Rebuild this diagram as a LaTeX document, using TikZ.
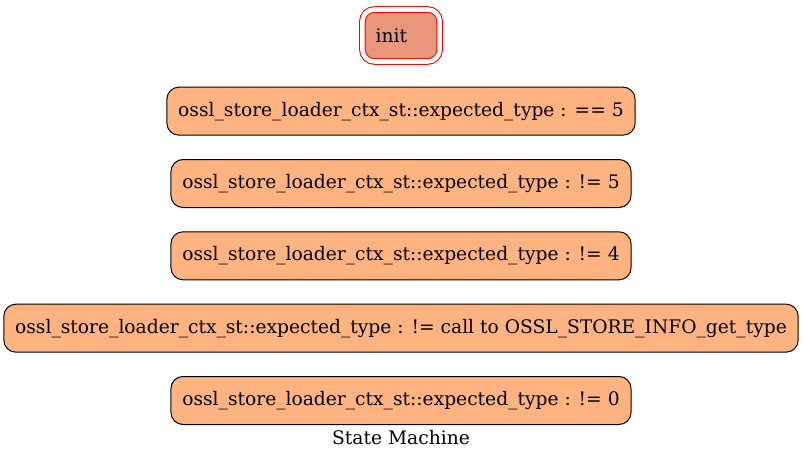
\documentclass[tikz,border=0pt]{standalone}
\usepackage{fontspec}
\setmainfont{DejaVu Serif}
\usetikzlibrary{positioning}
\definecolor{statefill}{RGB}{255,179,128}
\definecolor{initfill}{RGB}{233,150,122}

\begin{document}
\begin{tikzpicture}[x=0.75pt, y=-0.75pt]

\tikzstyle{state} = [rectangle, rounded corners=9pt, draw=black, line width=0.75pt, fill=statefill, minimum height=36pt, inner xsep=8.5pt, font=\fontsize{14}{16}\selectfont]
\tikzstyle{initstate} = [rectangle, rounded corners=9pt, draw=red, line width=0.75pt, double=white, double distance=3.4pt, fill=initfill, minimum height=39pt, text width=38pt, align=left, inner xsep=10pt, font=\fontsize{14}{16}\selectfont]
\tikzstyle{caption} = [font=\fontsize{14}{16}\selectfont]

\useasboundingbox (0,0) rectangle (803,460);

% Make nodes
\node (init) [initstate] at (401,35.5) {init};
\node (s1) [state, below=18.5pt of init] {ossl\_store\_loader\_ctx\_st::expected\_type : == 5};
\node (s2) [state, below=17.5pt of s1] {ossl\_store\_loader\_ctx\_st::expected\_type : != 5};
\node (s3) [state, below=17.5pt of s2] {ossl\_store\_loader\_ctx\_st::expected\_type : != 4};
\node (s4) [state, below=17.5pt of s3] {ossl\_store\_loader\_ctx\_st::expected\_type : != call to OSSL\_STORE\_INFO\_get\_type};
\node (s5) [state, below=17.5pt of s4] {ossl\_store\_loader\_ctx\_st::expected\_type : != 0};

% Caption
\node (title) [caption] at (401,438) {State Machine};

\end{tikzpicture}
\end{document}
